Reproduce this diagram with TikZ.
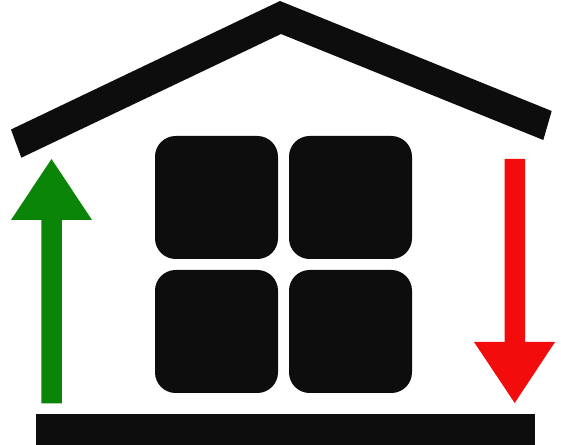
\documentclass[tikz,border=0pt]{standalone}
\definecolor{ink}{HTML}{0D0D0D}
\definecolor{upgreen}{HTML}{0A8508}
\definecolor{downred}{HTML}{F20C0C}
\tikzset{
  solid ink/.style={fill=ink,draw=none},
  pane/.style={fill=ink,draw=none,rounded corners=15.5pt},
}
\begin{document}
\begin{tikzpicture}[x=0.75pt,y=-0.75pt]
\useasboundingbox (0,0) rectangle (561,445);
\fill[white] (0,0) rectangle (561,445);
% roof
\path[solid ink] (11,129.5) -- (280,1) -- (551.7,111) -- (543.3,140) -- (281,34) -- (21.3,157.7) -- cycle;
% window panes
\path[pane] (155,136) rectangle (278,259);
\path[pane] (289,136) rectangle (412,259);
\path[pane] (155,270) rectangle (278,393);
\path[pane] (289,270) rectangle (412,393);
% floor
\path[solid ink] (36,414) rectangle (535,445);
% green arrow
\fill[upgreen] (41.3,403.5) -- (41.3,220) -- (11,220) -- (51.5,159) -- (92,220) -- (61.8,220) -- (61.8,403.5) -- cycle;
% red arrow
\fill[downred] (504.5,159) -- (525,159) -- (525,342) -- (555,342) -- (514.7,403) -- (474,342) -- (504.5,342) -- cycle;
\end{tikzpicture}
\end{document}
